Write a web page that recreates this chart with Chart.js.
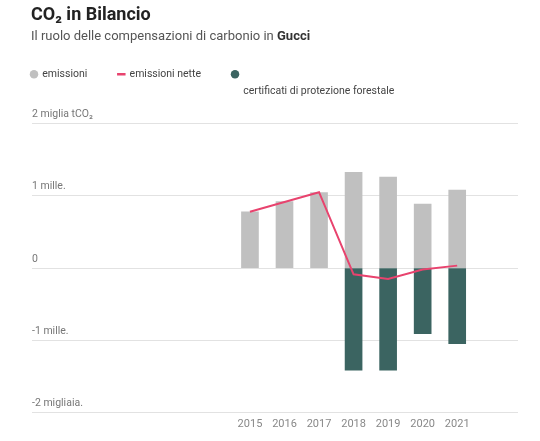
<!DOCTYPE html>
<html>
<head>
<meta charset="utf-8">
<script src="https://cdn.jsdelivr.net/npm/chart.js@4/dist/chart.umd.min.js"></script>
<style>
  body { margin: 0; background: #fff; font-family: Roboto, sans-serif; }
  #wrap { position: relative; width: 540px; height: 441px; }
  #title { position: absolute; left: 31px; top: 3px; font-size: 18px; line-height: 22px; font-weight: 700; color: #222; }
  #subtitle { position: absolute; left: 31px; top: 27px; font-size: 13px; line-height: 17px; color: #555; }
  #subtitle b { color: #333; }
</style>
</head>
<body>
<div id="wrap">
  <canvas id="myChart" width="540" height="441"></canvas>
  <div id="title">CO₂ in Bilancio</div>
  <div id="subtitle">Il ruolo delle compensazioni di carbonio in <b>Gucci</b></div>
</div>
<script>
var years = [2015, 2016, 2017, 2018, 2019, 2020, 2021];
var emissioni = [780, 920, 1045, 1325, 1260, 885, 1080];
var certificati = [null, null, null, -1410, -1410, -905, -1045];
var emissioniNette = [780, 915, 1050, -85, -150, -20, 35];
var yTicks = [-2000, -1000, 0, 1000, 2000];
var yTickLabels = ["-2 migliaia.", "-1 mille.", "0", "1 mille.", "2 miglia tCO₂"];

function points(values) {
  return years.map(function (yr, i) { return { x: yr, y: values[i] }; });
}

// leave some room under the legend before the plot starts
var legendGap = {
  id: "legendGap",
  beforeInit: function (chart) {
    var fit = chart.legend.fit;
    chart.legend.fit = function () {
      fit.bind(chart.legend)();
      this.height += 34;
    };
  }
};

new Chart("myChart", {
  data: {
    datasets: [
      {
        type: "line",
        label: "emissioni nette",
        data: points(emissioniNette),
        borderColor: "#e8436e",
        backgroundColor: "#e8436e",
        borderWidth: 2,
        pointRadius: 0,
        pointStyle: "line",
        tension: 0,
        order: 0
      },
      {
        type: "bar",
        label: "emissioni",
        data: points(emissioni),
        backgroundColor: "#c0c0c0",
        barThickness: 17,
        grouped: false,
        pointStyle: "circle",
        order: 1
      },
      {
        type: "bar",
        label: "certificati di protezione forestale",
        data: points(certificati),
        backgroundColor: "#3b6461",
        barThickness: 17,
        grouped: false,
        pointStyle: "circle",
        order: 1
      }
    ]
  },
  plugins: [legendGap],
  options: {
    responsive: false,
    animation: false,
    layout: { padding: { top: 38, right: 22, bottom: 5, left: 0 } },
    plugins: {
      tooltip: { enabled: false },
      legend: {
        display: true,
        position: "top",
        align: "start",
        labels: {
          usePointStyle: true,
          boxWidth: 6,
          boxHeight: 6,
          padding: 31,
          color: "#444",
          font: { family: "Roboto", size: 10.5, lineHeight: 1.6 },
          generateLabels: function (chart) {
            var order = [1, 0, 2];
            return order.map(function (i) {
              var ds = chart.data.datasets[i];
              var text = i === 2 ? ["", ds.label] : ds.label;
              return {
                text: text,
                datasetIndex: i,
                fillStyle: ds.backgroundColor,
                strokeStyle: ds.backgroundColor,
                lineWidth: i === 0 ? 2.5 : 0,
                pointStyle: ds.pointStyle,
                fontColor: "#444",
                hidden: false
              };
            });
          }
        }
      }
    },
    scales: {
      x: {
        type: "linear",
        min: 2008.69,
        max: 2022.76,
        offset: false,
        grid: { display: false, drawTicks: false },
        border: { display: false },
        afterBuildTicks: function (axis) {
          axis.ticks = years.map(function (v) { return { value: v }; });
        },
        ticks: {
          padding: 5,
          color: "#888",
          font: { family: "Roboto", size: 11 },
          callback: function (value) { return String(value); }
        }
      },
      y: {
        min: -2000,
        max: 2000,
        afterFit: function (axis) { axis.width = 32; },
        afterBuildTicks: function (axis) {
          axis.ticks = yTicks.map(function (v) { return { value: v }; });
        },
        grid: { color: "#e2e2e2", lineWidth: 1, drawTicks: false },
        border: { display: false },
        ticks: {
          mirror: true,
          padding: 0,
          labelOffset: -9,
          color: "#777",
          font: { family: "Roboto", size: 10.5 },
          callback: function (value) {
            return yTickLabels[yTicks.indexOf(value)];
          }
        }
      }
    }
  }
});
</script>
</body>
</html>
